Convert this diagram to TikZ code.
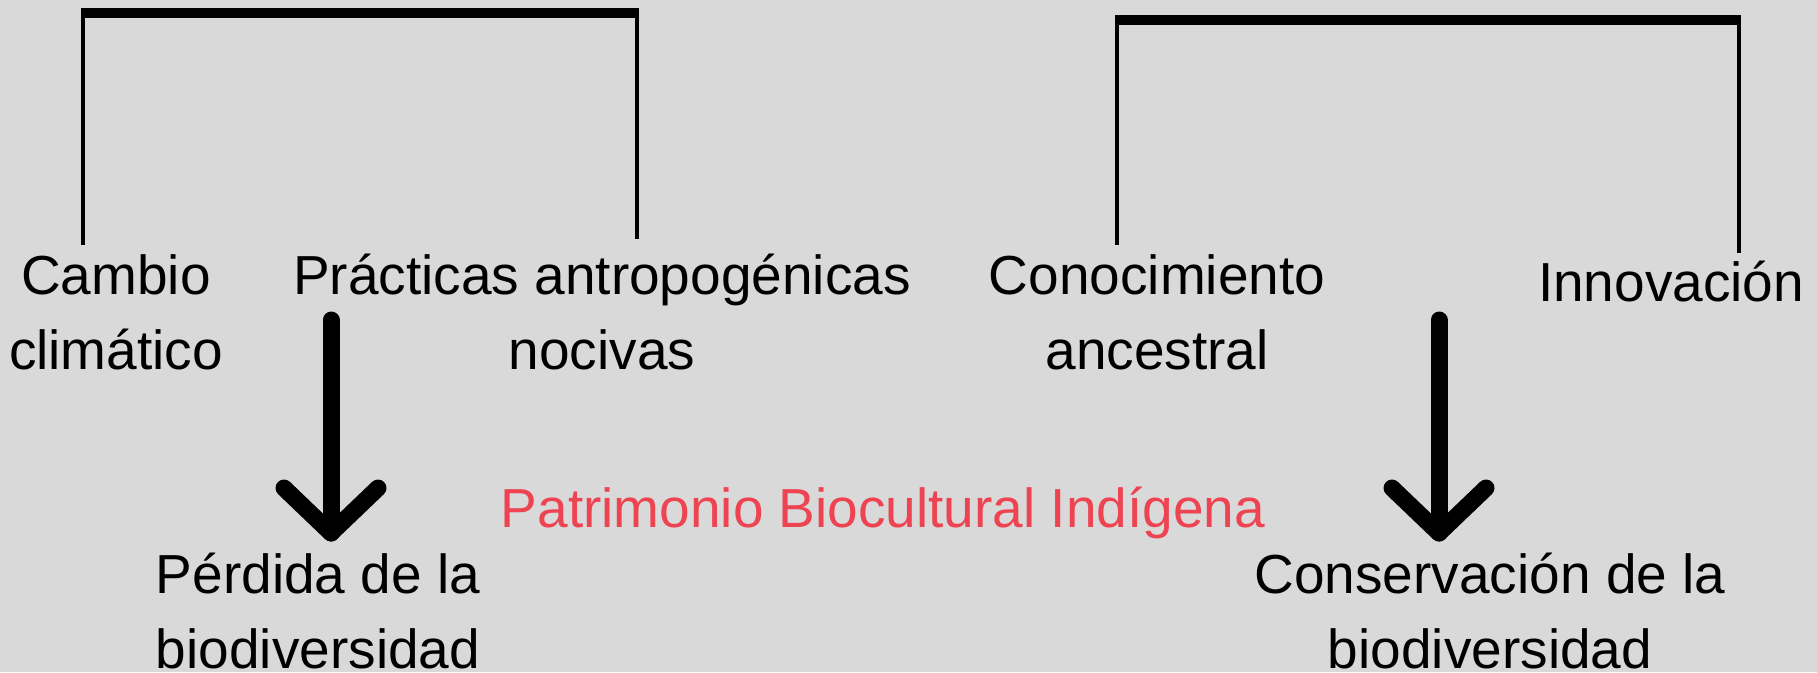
\documentclass[tikz,border=0pt]{standalone}
\usepackage{fontspec}
\setmainfont{Liberation Sans}
\usetikzlibrary{calc}
\definecolor{paper}{HTML}{D9D9D9}
\definecolor{accent}{HTML}{EE4452}

\begin{document}
\begin{tikzpicture}[
  x=1pt,y=-1pt,
  term/.style={align=center,anchor=base,inner sep=0pt,font=\fontsize{55}{75}\selectfont},
  title/.style={term,text=accent},
  bar/.style={line width=10pt},
  leg/.style={line width=3.5pt},
  arrow/.style={line width=17pt,line cap=round,line join=round}
]
\fill[paper] (0,0) rectangle (1817,672);
\useasboundingbox (0,0) rectangle (1817,672);
% causes (base = last line)
\node[term] (cambio) at (116,369) {Cambio\\climático};
\node[term] (practicas) at (602,369) {Prácticas antropogénicas\\nocivas};
\node[term] (conocimiento) at (1157,369) {Conocimiento\\ancestral};
\node[term] (innovacion) at (1671,301) {Innovación};
\node[title] (patrimonio) at (883,527) {Patrimonio Biocultural Indígena};
% effects
\node[term] (perdida) at (318,668) {Pérdida de la\\biodiversidad};
\node[term] (conservacion) at (1490,668) {Conservación de la\\biodiversidad};
% brackets
\coordinate (lbarL) at (83,13);
\coordinate (lbarR) at (637,13);
\coordinate (lfootL) at (83,245);
\coordinate (lfootR) at (637,239);
\coordinate (rbarL) at (1117,20);
\coordinate (rbarR) at (1739,20);
\coordinate (rfootL) at (1117,245);
\coordinate (rfootR) at (1739,253);
\draw[bar] (lbarL) -- (lbarR);
\draw[leg] (lfootL) -- (lbarL |- 0,8);
\draw[leg] (lfootR) -- (lbarR |- 0,8);
\draw[bar] (rbarL) -- (rbarR);
\draw[leg] (rfootL) -- (rbarL |- 0,15);
\draw[leg] (rfootR) -- (rbarR |- 0,15);
% arrows
\coordinate (ltop) at (331,320);
\coordinate (ltip) at (331,533);
\coordinate (rtop) at (1439,320);
\coordinate (rtip) at (1439,533);
\draw[arrow] (ltop) -- (ltip);
\draw[arrow] ($(ltip)+(-47,-45)$) -- (ltip) -- ++(47,-45);
\draw[arrow] (rtop) -- (rtip);
\draw[arrow] ($(rtip)+(-47,-45)$) -- (rtip) -- ++(47,-45);
\end{tikzpicture}
\end{document}
